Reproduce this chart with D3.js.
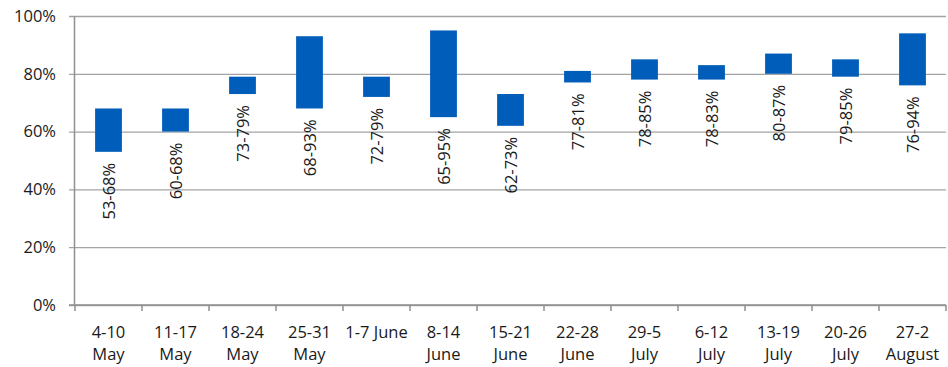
<!DOCTYPE html>
<html>
<head>
<meta charset="utf-8">
<script src="https://cdn.jsdelivr.net/npm/d3@7"></script>
<style>
  html, body { margin: 0; padding: 0; background: #fff; }
  text { font-family: "Open Sans", sans-serif; fill: #1a1a1a; }
</style>
</head>
<body>
<svg id="chart" width="948" height="367"></svg>
<script>
// Weekly ranges (low–high, %)
const categories = ["4-10\nMay", "11-17\nMay", "18-24\nMay", "25-31\nMay", "1-7 June", "8-14\nJune",
  "15-21\nJune", "22-28\nJune", "29-5\nJuly", "6-12\nJuly", "13-19\nJuly", "20-26\nJuly", "27-2\nAugust"];
const lowValues  = [53, 60, 73, 68, 72, 65, 62, 77, 78, 78, 80, 79, 76];
const highValues = [68, 68, 79, 93, 79, 95, 73, 81, 85, 83, 87, 85, 94];
const yTicks = [0, 20, 40, 60, 80, 100];

const svg = d3.select("#chart");
const margin = { left: 75, right: 2, top: 16, bottom: 62 };
const W = 948, H = 367;

const x = d3.scaleBand()
  .domain(categories)
  .range([margin.left, W - margin.right])
  .paddingInner(0.6)
  .paddingOuter(0.3);

const y = d3.scaleLinear()
  .domain([0, 100])
  .range([H - margin.bottom, margin.top]);

const gridColor = "#a3a3a3";
const axisColor = "#8f8f8f";

// Horizontal gridlines with short ticks left of the axis
const yAxis = d3.axisLeft(y)
  .tickValues(yTicks)
  .tickFormat(d => d + "%")
  .tickSize(-(W - margin.right - margin.left + 6))
  .tickSizeOuter(0)
  .tickPadding(0);

const gy = svg.append("g")
  .attr("transform", `translate(${margin.left - 6},0)`)
  .call(yAxis);
gy.select(".domain").remove();
gy.selectAll(".tick line").attr("stroke", gridColor).attr("stroke-width", 1.3)
  .attr("x1", 0);
gy.selectAll(".tick text")
  .attr("x", -13)
  .attr("font-size", 16.5)
  .attr("fill", "#1a1a1a");

// Vertical axis line
svg.append("line")
  .attr("x1", margin.left - 0.5).attr("x2", margin.left - 0.5)
  .attr("y1", y(100)).attr("y2", y(0))
  .attr("stroke", axisColor).attr("stroke-width", 1.5);

// Category axis with boundary ticks
const step = x.step();
const boundaries = d3.range(categories.length + 1).map(i => margin.left + i * step);
const gx = svg.append("g");
gx.append("line")
  .attr("x1", margin.left - 6).attr("x2", W - margin.right)
  .attr("y1", y(0)).attr("y2", y(0))
  .attr("stroke", axisColor).attr("stroke-width", 1.5);
gx.selectAll("line.bt").data(boundaries).join("line")
  .attr("class", "bt")
  .attr("x1", d => d).attr("x2", d => d)
  .attr("y1", y(0)).attr("y2", y(0) + 6)
  .attr("stroke", axisColor).attr("stroke-width", 1.5);

const labels = gx.selectAll("text.cat").data(categories).join("text")
  .attr("class", "cat")
  .attr("text-anchor", "middle")
  .attr("font-size", 16.5)
  .attr("transform", d => `translate(${x(d) + x.bandwidth() / 2},${y(0) + 33})`);
labels.each(function(d) {
  const t = d3.select(this);
  d.split("\n").forEach((line, i) => {
    t.append("tspan").attr("x", 0).attr("dy", i === 0 ? 0 : 22).text(line);
  });
});

// Floating range bars
const rows = categories.map((c, i) => ({ cat: c, low: lowValues[i], high: highValues[i] }));

svg.append("g").selectAll("rect").data(rows).join("rect")
  .attr("x", d => x(d.cat))
  .attr("width", x.bandwidth())
  .attr("y", d => y(d.high))
  .attr("height", d => y(d.low) - y(d.high))
  .attr("fill", "#005db9");

// Rotated range labels below each bar
svg.append("g").selectAll("text").data(rows).join("text")
  .attr("transform", d => `translate(${x(d.cat) + x.bandwidth() / 2 + 6},${y(d.low) + 11}) rotate(-90)`)
  .attr("text-anchor", "end")
  .attr("font-size", 16.5)
  .text(d => `${d.low}-${d.high}%`);
</script>
</body>
</html>
